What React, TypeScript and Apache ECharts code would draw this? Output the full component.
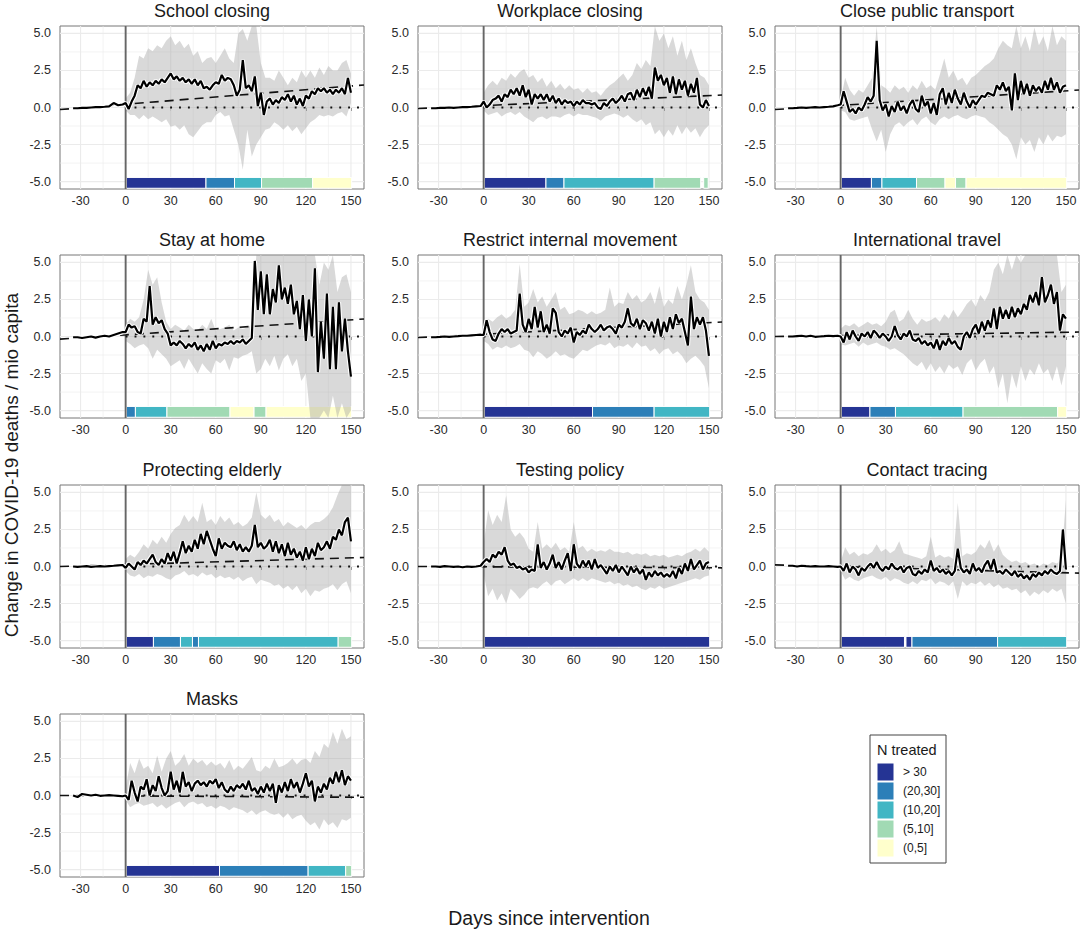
import React, { useEffect, useRef } from 'react';
import * as echarts from 'echarts';

const FONT = '"Liberation Sans", Arial, Helvetica, sans-serif';

const X_MIN = -43.7;
const X_MAX = 158.7;
const Y_MIN = -5.5;
const Y_MAX = 5.5;
const X_TICKS = [-30, 0, 30, 60, 90, 120, 150];
const X_MINOR = [-15, 15, 45, 75, 105, 135];
const Y_TICKS = [-5, -2.5, 0, 2.5, 5];
const Y_MINOR = [-3.75, -1.25, 1.25, 3.75];
const TILE_TOP = -4.72;
const TILE_BOTTOM = -5.45;

const PANEL_TITLES = [
  'School closing', 'Workplace closing', 'Close public transport',
  'Stay at home', 'Restrict internal movement', 'International travel',
  'Protecting elderly', 'Testing policy', 'Contact tracing', 'Masks',
];

const N_LABELS = ['> 30', '(20,30]', '(10,20]', '(5,10]', '(0,5]'];
const N_COLORS = ['#253494', '#2c7fb8', '#41b6c4', '#a1dab4', '#ffffcc'];

const PRE_DAYS = [-35, -32, -29, -26, -23, -20, -17, -14, -11, -8, -5, -2];
const POST_DAYS = [0, 2, 4, 6, 8, 10, 12, 14, 16, 18, 20, 22, 24, 26, 28, 30, 32, 34, 36, 38, 40, 42, 44, 46, 48, 50, 52, 54, 56, 58, 60, 62, 64, 66, 68, 70, 72, 74, 76, 78, 80, 82, 84, 86, 88, 90, 92, 94, 96, 98, 100, 102, 104, 106, 108, 110, 112, 114, 116, 118, 120, 122, 124, 126, 128, 130, 132, 134, 136, 138, 140, 142, 144, 146, 148, 150];
const LINE_DAYS = [...PRE_DAYS, ...POST_DAYS];
const BAND_DAYS = [0, 3, 6, 9, 12, 15, 18, 21, 24, 27, 30, 33, 36, 39, 42, 45, 48, 51, 54, 57, 60, 63, 66, 69, 72, 75, 78, 81, 84, 87, 90, 93, 96, 99, 102, 105, 108, 111, 114, 117, 120, 123, 126, 129, 132, 135, 138, 141, 144, 147, 150];

// ---- estimated effect lines (pre days, then post days) ----
const LINE_SCHOOL = [
  -0.05, -0.05, -0.03, -0.02, 0.0, 0.02, 0.03, 0.05, 0.08, 0.3, 0.15, 0.2,
  0.3, -0.1, 0.4, 0.8, 1.5, 1.3, 1.8, 1.4, 1.7, 1.5,
  1.8, 1.6, 1.9, 1.7, 2.0, 2.3, 1.9, 2.1, 1.8, 2.0,
  1.7, 1.9, 1.6, 1.9, 1.5, 1.8, 1.3, 1.4, 1.2, 1.5,
  1.7, 1.6, 2.2, 1.8, 2.0, 1.9, 1.5, 0.8, 1.2, 3.2,
  1.3, 1.5, 1.1, 2.1, 0.1, 1.0, -0.5, 0.4, 0.6, 0.2,
  0.5, 0.3, 0.7, 0.5, 0.9, 0.4, 0.8, 0.2, 0.6, 0.1,
  0.8, 0.6, 1.1, 0.9, 1.3, 1.1, 1.3, 1.0, 1.2, 0.9,
  1.2, 1.0, 1.3, 0.9, 2.0, 1.0,
];
const LINE_WORK = [
  -0.05, -0.05, -0.03, -0.02, 0.0, -0.02, 0.0, 0.02, 0.03, 0.05, 0.08, 0.1,
  0.4, 0.0, 0.2, 0.5, 0.6, 0.8, 0.4, 0.9, 0.7, 1.2,
  0.9, 1.3, 0.8, 1.5, 0.7, 1.2, 0.2, 0.9, 0.6, 0.9,
  0.5, 0.9, 0.4, 0.8, 0.3, 0.6, 0.2, 0.5, 0.3, 0.4,
  0.1, 0.4, 0.2, 0.5, 0.3, 0.3, 0.2, 0.3, 0.0, -0.1,
  0.3, 0.1, 0.4, 0.6, 0.3, 0.5, 0.8, 0.4, 0.9, 1.0,
  0.5, 1.2, 0.7, 1.3, 0.8, 1.4, 0.6, 2.7, 1.8, 2.2,
  1.5, 2.0, 1.0, 2.1, 0.9, 1.9, 1.2, 1.8, 0.8, 1.6,
  1.0, 2.0, 0.2, 0.0, 0.5, 0.1,
];
const LINE_TRANSPORT = [
  -0.05, -0.05, -0.03, 0.0, -0.02, 0.0, 0.02, 0.0, 0.03, 0.05, 0.08, 0.15,
  0.2, 1.1, 0.4, -0.3, -0.1, -0.4, 0.0, -0.2, 0.2, 0.7,
  0.4, 0.8, 4.5, 0.5, -0.2, 0.2, -0.6, 0.1, -0.3, 0.4,
  -0.2, 0.1, -0.4, 0.2, 0.5, -0.1, -0.3, 0.8, 0.1, 0.4,
  -0.4, 0.3, -0.5, 0.9, 1.3, 0.2, 1.0, 0.3, 1.2, 0.6,
  0.2, 1.0, 0.4, 0.0, 0.5, 0.2, 0.5, 0.8, 0.7, 1.0,
  0.9, 0.8, 1.5, 1.2, 1.7, 1.1, 1.4, -0.2, 2.3, 0.5,
  1.8, 0.9, 1.6, 0.8, 1.5, 1.1, 1.4, 1.0, 1.8, 1.2,
  2.0, 1.2, 1.7, 1.0, 1.4, 1.5,
];
const LINE_HOME = [
  -0.05, -0.05, -0.1, -0.05, 0.0, -0.08, 0.0, 0.05, 0.0, 0.1, 0.2, 0.3,
  0.3, 0.8, 0.6, 0.7, 0.3, 0.2, 1.2, 1.0, 3.4, 0.8,
  1.3, 0.9, 1.1, 0.5, 0.2, -0.6, -0.4, -0.6, -0.3, -0.5,
  -0.8, -0.5, -0.7, -0.4, -0.9, -0.6, -1.0, -0.5, -0.9, -0.3,
  -0.8, -0.5, -0.6, -0.4, -0.5, -0.3, -0.5, -0.3, -0.4, -0.2,
  -0.5, -0.3, -0.1, 5.1, 1.8, 4.4, 1.5, 4.2, 1.5, 3.2,
  2.3, 4.8, 2.5, 3.3, 2.2, 3.5, 1.5, 2.4, 0.5, 2.8,
  -0.3, 2.5, 0.0, 4.6, -2.4, 1.0, -1.5, 2.9, -2.2, 2.0,
  -2.2, 2.3, -1.0, 1.2, -1.0, -2.7,
];
const LINE_INTERNAL = [
  -0.05, -0.05, -0.03, 0.0, -0.02, 0.0, 0.02, 0.05, 0.05, 0.08, 0.1, 0.12,
  0.1, 1.1, 0.3, -0.2, -0.3, 0.2, 0.5, 0.3, 0.5, 0.2,
  0.3, 0.4, 2.9, 0.8, 0.3, 1.2, 0.5, 2.0, 0.6, 1.7,
  0.3, 0.8, 0.2, 1.9, 1.6, 0.3, 0.0, 0.4, 0.2, 0.6,
  -0.4, 0.3, 0.1, 0.4, 0.2, 0.8, 0.5, 0.3, 0.5, 0.8,
  0.4, 0.6, 0.7, 0.5, 0.2, 0.8, 0.6, 1.0, 1.9, 0.9,
  0.7, 1.2, 0.5, 1.1, 0.9, 0.4, 1.0, 0.2, 1.2, 0.0,
  1.0, 0.3, 1.3, 0.5, 1.5, 0.9, 1.2, 0.3, -0.6, 2.7,
  0.5, 1.3, 0.8, 1.3, 0.4, -1.3,
];
const LINE_TRAVEL = [
  0.0, 0.0, 0.03, 0.05, 0.0, 0.05, -0.02, 0.0, 0.02, 0.05, 0.03, 0.05,
  0.0, -0.4, 0.3, -0.2, 0.4, 0.0, -0.3, 0.2, 0.0, 0.3,
  -0.1, 0.4, 0.2, -0.1, 0.2, 0.0, -0.3, 0.0, 0.7, 0.1,
  -0.2, 0.2, 0.0, 0.4, -0.2, -0.3, -0.1, -0.5, -0.3, -0.6,
  -0.4, -0.8, -0.2, -0.9, -0.3, -0.6, -0.1, -0.5, -0.3, -0.7,
  -0.9, 0.0, 0.3, -0.1, 0.5, 0.8, 0.2, 1.0, 0.4, 1.1,
  0.6, 1.9, 0.5, 2.0, 1.2, 1.8, 1.2, 2.0, 1.3, 1.9,
  1.5, 2.2, 1.8, 2.8, 2.3, 3.0, 2.1, 4.0, 2.3, 2.8,
  3.5, 2.2, 3.0, 0.4, 1.5, 1.2,
];
const LINE_ELDERLY = [
  0.0, -0.02, 0.0, 0.02, -0.03, 0.0, 0.03, 0.0, 0.03, 0.05, 0.08, 0.1,
  -0.1, 0.2, 0.0, -0.2, 0.3, 0.1, 0.4, 0.2, 0.5, 0.8,
  0.3, 0.1, 0.5, 0.2, 0.9, 0.4, 1.0, 0.2, 0.9, 1.7,
  0.9, 1.4, 1.0, 1.8, 1.2, 2.2, 1.5, 2.4, 1.8, 1.2,
  0.7, 1.9, 1.2, 1.6, 1.4, 1.3, 1.7, 1.1, 1.5, 1.0,
  1.3, 1.0, 1.4, 2.8, 1.3, 1.6, 1.2, 1.4, 1.8, 1.0,
  1.7, 0.9, 1.5, 0.7, 1.6, 0.8, 1.2, 0.6, 1.0, 0.4,
  1.3, 0.5, 1.2, 0.7, 1.6, 1.1, 1.3, 1.7, 1.2, 2.0,
  1.8, 2.5, 2.1, 3.0, 3.3, 1.7,
];
const LINE_TESTING = [
  0.0, 0.0, -0.02, 0.02, 0.0, -0.02, 0.0, -0.05, 0.0, -0.03, 0.0, 0.05,
  0.3, 0.5, 0.3, 0.8, 0.6, 1.0, 0.8, 1.3, 0.4, 0.1,
  0.2, -0.1, 0.0, -0.2, -0.1, -0.4, -0.2, -0.3, 1.5, -0.1,
  0.3, -0.2, 0.2, 0.8, -0.1, 0.3, -0.2, 0.4, 0.9, -0.3,
  1.5, 0.2, -0.1, 0.4, 0.0, 0.4, -0.2, 0.5, -0.1, 0.1,
  -0.2, -0.5, 0.0, -0.3, 0.1, -0.4, 0.0, -0.3, -0.6, 0.0,
  -0.4, -0.1, -0.5, -0.2, -0.9, -0.4, -0.7, -0.3, -0.6, -0.4,
  -0.7, -0.5, -0.7, -0.3, -0.8, -0.1, -0.5, 0.2, -0.3, 0.5,
  -0.2, 0.1, 0.4, -0.2, 0.2, 0.3,
];
const LINE_TRACING = [
  0.05, 0.05, 0.0, 0.05, 0.02, 0.0, 0.03, 0.0, 0.0, 0.02, 0.0, -0.02,
  0.0, -0.3, 0.2, -0.4, 0.0, -0.2, -0.6, -0.1, -0.3, 0.0,
  0.2, -0.1, 0.3, -0.1, -0.3, 0.0, -0.2, 0.2, -0.1, -0.2,
  0.0, -0.4, -0.1, 0.0, -0.5, -0.6, -0.3, -0.5, -0.2, -0.4,
  0.4, -0.3, -0.1, -0.4, -0.2, -0.5, -0.3, -0.6, -0.3, 1.2,
  -0.1, -0.4, -0.2, -0.5, 0.2, -0.3, -0.1, -0.4, 0.1, 0.4,
  -0.2, 0.5, -0.4, -0.3, -0.5, -0.2, -0.4, -0.6, -0.3, -0.7,
  -0.5, -0.8, -0.6, -0.9, -0.5, -0.7, -0.4, -0.6, -0.3, -0.5,
  -0.2, -0.4, -0.5, -0.3, 2.5, -0.2,
];
const LINE_MASKS = [
  0.0, -0.1, 0.1, 0.05, 0.0, 0.05, -0.02, 0.0, 0.02, 0.0, -0.02, -0.05,
  0.0, -0.3, 1.0, 0.2, -0.4, 0.6, 0.4, 1.1, 0.0, 0.7,
  0.3, 1.3, 0.5, 0.0, 0.3, 1.6, 0.4, 1.0, 0.2, 1.6,
  0.6, 0.9, 0.3, 0.8, 1.0, 0.7, 0.9, 0.6, 1.0, 0.8,
  1.1, 0.5, 0.9, 0.4, 0.2, 0.6, 0.3, 0.7, 0.5, 0.8,
  0.4, 1.0, 0.3, 0.5, 0.1, 0.6, 0.2, 0.8, 0.3, 0.8,
  -0.5, 0.7, 0.2, 0.9, 0.3, 1.1, 0.5, 0.9, 0.2, 0.8,
  1.5, 0.6, 1.0, -0.4, 0.6, 0.2, 0.8, 0.4, 1.2, 0.8,
  1.6, 0.9, 1.7, 0.7, 1.3, 1.0,
];

// ---- confidence bands (BAND_DAYS) ----
const UPPER_SCHOOL = [0.6, 1.0, 2.0, 3.5, 3.3, 4.0, 3.8, 4.2, 4.0, 4.5, 4.8, 4.2, 4.5, 4.0, 4.3, 3.5, 3.8, 3.0, 3.3, 3.4, 3.0, 3.5, 4.0, 3.3, 3.0, 5.0, 5.3, 4.5, 5.5, 5.5, 3.0, 2.0, 2.0, 1.8, 2.5, 2.0, 1.5, 2.0, 1.7, 2.5, 2.0, 2.5, 2.0, 2.7, 2.2, 2.8, 2.5, 2.5, 3.0, 3.2, 2.3];
const LOWER_SCHOOL = [-0.2, -0.5, -0.5, -0.8, -0.5, -0.8, -0.6, -0.8, -1.0, -0.8, -1.3, -1.2, -1.5, -1.2, -1.8, -2.0, -1.6, -1.2, -1.0, -1.0, -0.5, -0.3, -0.6, -0.5, -1.5, -2.5, -4.2, -1.5, -3.3, -2.5, -2.0, -1.5, -1.4, -1.0, -1.2, -1.5, -1.2, -1.6, -1.3, -1.8, -1.4, -1.0, -0.8, -0.5, -0.6, -0.5, -0.6, -0.4, -0.3, -0.6, 0.3];
const UPPER_WORK = [1.0, 1.5, 1.8, 1.5, 2.0, 1.8, 2.3, 2.0, 2.4, 2.6, 2.0, 2.2, 1.7, 2.0, 1.4, 1.8, 1.3, 1.6, 1.2, 1.5, 1.2, 1.3, 1.0, 1.3, 1.0, 1.1, 0.8, 1.2, 1.5, 1.7, 2.0, 2.3, 1.8, 2.2, 3.0, 2.6, 3.2, 2.8, 5.5, 4.5, 5.0, 4.0, 4.8, 3.5, 4.5, 3.2, 4.0, 3.0, 2.2, 2.0, 1.5];
const LOWER_WORK = [-0.2, -0.5, -0.4, -0.3, -0.6, -0.4, -0.3, -0.5, -0.3, -0.6, -0.8, -1.0, -0.7, -0.6, -0.8, -0.6, -0.6, -0.7, -0.5, -0.4, -0.6, -0.4, -0.5, -0.5, -0.6, -0.7, -0.9, -0.6, -0.5, -0.4, -0.5, -0.7, -0.5, -0.8, -1.0, -0.8, -1.2, -1.0, -1.8, -1.5, -2.0, -1.5, -1.9, -1.2, -1.8, -1.3, -1.7, -1.4, -2.0, -1.5, -1.2];
const UPPER_TRANSPORT = [0.5, 2.0, 1.2, 0.8, 1.2, 1.0, 1.5, 2.0, 5.5, 1.5, 1.3, 1.0, 1.5, 1.2, 1.4, 1.0, 1.5, 1.2, 1.8, 1.3, 1.5, 1.2, 2.2, 3.3, 2.0, 2.5, 1.8, 2.0, 1.5, 2.0, 2.2, 2.5, 2.8, 3.0, 3.3, 4.0, 4.5, 4.2, 4.0, 5.5, 4.0, 4.8, 3.8, 5.4, 4.2, 4.8, 3.8, 5.5, 4.2, 4.8, 4.5];
const LOWER_TRANSPORT = [-0.2, -0.3, -0.8, -0.9, -0.8, -0.7, -0.6, -1.5, -2.3, -1.5, -3.0, -1.8, -1.2, -1.0, -1.3, -1.0, -0.8, -1.2, -0.8, -0.6, -1.0, -1.2, -0.8, -0.6, -0.8, -0.6, -0.5, -0.7, -0.8, -0.6, -0.5, -0.6, -0.7, -1.0, -1.2, -1.5, -1.8, -2.0, -2.5, -3.5, -2.0, -2.5, -2.2, -3.0, -2.0, -2.5, -1.8, -2.3, -1.9, -2.0, -1.8];
const UPPER_HOME = [0.8, 1.2, 1.0, 1.3, 2.5, 4.5, 3.5, 4.0, 2.3, 1.0, 0.5, 0.8, 0.6, 0.4, 0.8, 0.5, 0.4, 0.8, 0.5, 1.2, 0.4, 0.5, 0.6, 0.8, 0.4, 0.6, 0.5, 0.6, 0.8, 5.5, 5.5, 5.5, 5.5, 5.5, 5.5, 5.5, 5.5, 5.5, 5.5, 5.5, 5.5, 5.5, 5.5, 3.5, 5.0, 4.5, 5.5, 3.0, 4.0, 4.2, 3.0];
const LOWER_HOME = [-0.3, -0.5, -0.8, -0.6, -0.5, -0.8, -1.5, -0.9, -1.2, -1.5, -2.0, -1.8, -1.6, -2.2, -1.5, -2.0, -2.5, -1.8, -2.2, -2.5, -1.6, -1.8, -1.5, -2.3, -1.4, -1.5, -1.3, -1.2, -1.0, -2.5, -2.2, -1.5, -2.0, -1.3, -2.3, -1.5, -1.2, -2.0, -1.5, -3.0, -2.5, -5.5, -5.5, -5.5, -5.0, -5.5, -4.0, -5.5, -4.5, -5.5, -5.0];
const UPPER_INTERNAL = [0.8, 1.2, 1.0, 1.3, 1.5, 1.2, 1.4, 1.8, 4.9, 2.0, 2.3, 3.2, 2.3, 2.7, 2.0, 2.5, 3.0, 1.8, 2.0, 1.5, 1.6, 1.8, 1.7, 1.5, 1.7, 1.5, 1.6, 1.8, 3.3, 2.0, 2.3, 2.2, 3.0, 2.5, 2.8, 2.3, 2.5, 3.0, 2.2, 3.4, 2.0, 2.5, 2.2, 3.4, 2.5, 3.5, 4.8, 3.0, 2.5, 2.3, 1.8];
const LOWER_INTERNAL = [-0.3, -0.5, -0.9, -0.7, -0.8, -0.6, -0.8, -0.7, -0.5, -0.9, -1.0, -1.4, -1.0, -1.2, -1.5, -1.3, -1.0, -1.3, -1.2, -1.4, -1.5, -1.2, -0.9, -1.0, -0.8, -0.6, -0.5, -0.6, -0.4, -0.8, -0.6, -0.7, -0.5, -0.8, -0.4, -0.7, -0.6, -1.0, -0.8, -1.2, -0.9, -0.8, -1.2, -1.0, -1.3, -1.8, -1.5, -1.3, -1.6, -2.0, -3.5];
const UPPER_TRAVEL = [0.5, 0.8, 0.7, 0.9, 0.6, 0.8, 1.0, 0.8, 0.9, 0.7, 1.0, 1.6, 1.8, 1.0, 1.2, 1.8, 1.2, 0.8, 1.2, 1.0, 1.1, 1.3, 1.0, 1.5, 1.2, 1.8, 1.3, 1.7, 2.2, 2.5, 2.0, 2.8, 2.4, 3.0, 4.5, 5.0, 4.2, 5.5, 4.5, 5.5, 5.0, 5.5, 5.5, 5.5, 5.5, 5.5, 5.5, 5.5, 5.5, 3.0, 3.5];
const LOWER_TRAVEL = [-0.5, -0.6, -0.5, -0.4, -0.7, -0.4, -0.6, -0.5, -0.4, -0.6, -0.7, -0.9, -0.8, -1.0, -1.2, -1.5, -1.8, -2.0, -1.7, -2.3, -1.8, -2.4, -2.0, -2.5, -1.9, -2.2, -2.0, -2.6, -1.8, -1.5, -2.3, -1.8, -1.5, -2.5, -2.0, -3.5, -2.5, -4.5, -2.5, -3.5, -2.0, -3.0, -2.2, -2.6, -1.8, -2.5, -2.2, -3.0, -2.0, -3.3, -2.0];
const UPPER_ELDERLY = [0.5, 0.8, 0.6, 1.0, 1.5, 1.2, 1.8, 1.5, 2.0, 1.6, 2.2, 2.6, 2.8, 3.5, 3.0, 3.4, 3.0, 4.3, 3.0, 3.2, 2.8, 3.4, 3.0, 3.3, 2.8, 3.0, 2.7, 2.9, 3.3, 5.0, 3.5, 3.2, 3.5, 3.0, 3.2, 2.7, 3.0, 2.8, 2.6, 2.8, 2.5, 2.8, 3.0, 3.0, 3.2, 3.5, 4.0, 4.8, 5.5, 5.5, 5.5];
const LOWER_ELDERLY = [-0.3, -0.6, -0.7, -0.5, -0.8, -0.6, -0.7, -0.5, -0.6, -0.8, -0.9, -0.6, -0.5, -0.3, -0.6, -0.5, -0.7, -0.4, -0.6, -0.5, -0.8, -0.6, -0.8, -0.7, -0.9, -0.7, -1.0, -0.8, -0.7, -1.2, -0.9, -1.0, -1.1, -1.3, -1.2, -1.5, -1.3, -1.6, -1.3, -1.8, -1.5, -2.0, -1.6, -1.7, -1.5, -1.4, -1.2, -1.6, -1.2, -1.0, -1.8];
const UPPER_TESTING = [1.5, 3.8, 2.8, 3.5, 3.0, 4.8, 2.5, 2.0, 2.3, 1.9, 1.2, 1.0, 3.0, 1.2, 1.5, 1.2, 1.6, 1.1, 1.3, 1.0, 3.0, 1.2, 1.4, 1.0, 1.2, 1.0, 1.1, 1.0, 1.2, 1.0, 1.0, 0.9, 1.0, 0.8, 0.9, 0.8, 0.9, 0.7, 0.8, 0.7, 0.8, 0.6, 0.7, 0.8, 0.7, 0.9, 1.0, 1.2, 1.0, 1.3, 1.0];
const LOWER_TESTING = [-0.5, -2.0, -1.5, -2.3, -1.8, -2.5, -1.5, -1.8, -2.2, -1.9, -1.5, -1.4, -1.5, -1.2, -1.0, -1.3, -1.0, -0.9, -1.2, -1.0, -0.8, -1.0, -0.8, -1.0, -0.8, -0.9, -1.0, -1.1, -1.0, -1.2, -1.1, -1.3, -1.2, -1.4, -1.3, -1.5, -1.6, -1.4, -1.5, -1.3, -1.5, -1.4, -1.3, -1.2, -1.1, -1.0, -0.9, -0.8, -0.9, -0.7, -0.6];
const UPPER_TRACING = [0.3, 1.3, 0.8, 1.0, 0.7, 0.9, 0.8, 1.0, 1.5, 1.0, 1.2, 0.9, 1.1, 1.7, 0.9, 0.8, 0.7, 0.6, 0.5, 0.7, 2.0, 0.6, 0.8, 0.6, 0.7, 0.5, 4.3, 0.7, 0.9, 0.8, 1.0, 1.5, 1.2, 1.8, 1.0, 1.5, 0.8, 0.5, 0.3, 0.4, 0.2, 0.3, 0.1, 0.2, 0.0, 0.2, 0.1, 0.3, 0.2, 0.5, 4.5];
const LOWER_TRACING = [-0.3, -0.9, -0.7, -0.9, -1.0, -0.8, -0.7, -0.6, -0.8, -0.9, -0.7, -1.0, -0.8, -0.9, -1.1, -1.2, -1.0, -1.2, -0.9, -1.0, -0.8, -1.2, -1.0, -1.1, -1.3, -1.0, -2.2, -1.0, -1.3, -1.1, -1.2, -1.0, -1.3, -1.1, -1.4, -1.2, -1.5, -1.4, -1.6, -1.5, -1.8, -1.6, -2.0, -1.7, -1.9, -1.6, -1.8, -1.5, -1.7, -1.5, -2.5];
const UPPER_MASKS = [0.5, 2.2, 1.5, 2.5, 1.8, 2.0, 1.5, 2.7, 1.6, 2.5, 3.0, 2.0, 2.3, 2.8, 2.0, 2.5, 2.2, 2.4, 2.0, 2.3, 2.0, 2.2, 1.8, 2.4, 1.7, 2.0, 1.8, 2.2, 2.6, 1.7, 1.6, 2.0, 1.8, 2.5, 1.9, 2.0, 2.2, 2.5, 2.1, 2.4, 2.5, 2.2, 3.0, 2.6, 3.5, 3.2, 4.3, 3.5, 4.5, 3.8, 4.0];
const LOWER_MASKS = [-0.3, -0.8, -0.6, -0.5, -0.7, -0.6, -0.5, -0.8, -0.6, -0.9, -0.7, -0.5, -0.4, -0.8, -0.5, -0.4, -0.6, -0.5, -0.8, -0.7, -0.9, -0.7, -0.8, -1.0, -0.8, -0.9, -1.0, -1.2, -1.0, -1.3, -1.1, -1.0, -1.2, -1.3, -1.2, -1.5, -1.2, -1.6, -1.4, -1.3, -1.7, -2.0, -1.8, -2.3, -1.6, -2.0, -1.8, -2.2, -1.6, -1.7, -1.5];

// ---- dashed linear trend: value at left edge, value at right edge ----
const TREND_LEFT = [-0.14, -0.07, -0.14, -0.18, -0.07, 0.0, 0.0, 0.0, 0.11, 0.0];
const TREND_RIGHT = [1.52, 0.84, 1.18, 1.18, 0.98, 0.3, 0.61, -0.09, -0.45, -0.12];

// ---- N treated runs: [from day, to day, class index] ----
const TREATED_SCHOOL = [[0.5, 53.5, 0], [53.5, 72.5, 1], [72.5, 90.5, 2], [90.5, 124.5, 3], [124.5, 150.5, 4]];
const TREATED_WORK = [[0.5, 41.5, 0], [41.5, 53.5, 1], [53.5, 113.5, 2], [113.5, 144.5, 3], [146.5, 149.5, 3]];
const TREATED_TRANSPORT = [[0.5, 20.5, 0], [20.5, 27.5, 1], [27.5, 50.5, 2], [50.5, 69.5, 3], [69.5, 76.5, 4], [76.5, 83.5, 3], [83.5, 150.5, 4]];
const TREATED_HOME = [[0.5, 6.5, 1], [6.5, 27.5, 2], [27.5, 69.5, 3], [69.5, 85.5, 4], [85.5, 93.5, 3], [93.5, 150.5, 4]];
const TREATED_INTERNAL = [[0.5, 72.5, 0], [72.5, 113.5, 1], [113.5, 150.5, 2]];
const TREATED_TRAVEL = [[0.5, 19.5, 0], [19.5, 36.5, 1], [36.5, 81.5, 2], [81.5, 144.5, 3], [144.5, 150.5, 4]];
const TREATED_ELDERLY = [[0.5, 18.5, 0], [18.5, 36.5, 1], [36.5, 44.5, 2], [44.5, 48.5, 1], [48.5, 141.5, 2], [141.5, 150.5, 3]];
const TREATED_TESTING = [[0.5, 150.5, 0]];
const TREATED_TRACING = [[0.5, 42.5, 0], [43.5, 47.5, 0], [47.5, 104.5, 1], [104.5, 150.5, 2]];
const TREATED_MASKS = [[0.5, 62.5, 0], [62.5, 121.5, 1], [121.5, 146.5, 2], [146.5, 150.5, 3]];

const LINES = [LINE_SCHOOL, LINE_WORK, LINE_TRANSPORT, LINE_HOME, LINE_INTERNAL, LINE_TRAVEL, LINE_ELDERLY, LINE_TESTING, LINE_TRACING, LINE_MASKS];
const UPPERS = [UPPER_SCHOOL, UPPER_WORK, UPPER_TRANSPORT, UPPER_HOME, UPPER_INTERNAL, UPPER_TRAVEL, UPPER_ELDERLY, UPPER_TESTING, UPPER_TRACING, UPPER_MASKS];
const LOWERS = [LOWER_SCHOOL, LOWER_WORK, LOWER_TRANSPORT, LOWER_HOME, LOWER_INTERNAL, LOWER_TRAVEL, LOWER_ELDERLY, LOWER_TESTING, LOWER_TRACING, LOWER_MASKS];
const TREATED = [TREATED_SCHOOL, TREATED_WORK, TREATED_TRANSPORT, TREATED_HOME, TREATED_INTERNAL, TREATED_TRAVEL, TREATED_ELDERLY, TREATED_TESTING, TREATED_TRACING, TREATED_MASKS];

// ---- layout ----
const COL_LEFT = [60, 418, 775];
const ROW_TOP = [26, 255, 485, 714];
const PANEL_W = 304;
const PANEL_H = 163;

function textEl(text: string, x: number, y: number, size: number, align: string, extra: any = {}) {
  return {
    type: 'text',
    x,
    y,
    silent: true,
    ...extra,
    style: {
      text,
      fontSize: size,
      fontFamily: FONT,
      fill: '#1a1a1a',
      align,
      verticalAlign: 'middle',
      textAlign: align,
      textVerticalAlign: 'middle',
    },
  };
}

function buildOption() {
  const grids: any[] = [];
  const xAxes: any[] = [];
  const yAxes: any[] = [];
  const series: any[] = [];
  const graphics: any[] = [];

  PANEL_TITLES.forEach((title, i) => {
    const col = i % 3;
    const row = Math.floor(i / 3);
    const left = COL_LEFT[col];
    const top = ROW_TOP[row];
    grids.push({
      left, top, width: PANEL_W, height: PANEL_H,
      show: true, borderColor: '#777777', borderWidth: 1, backgroundColor: '#ffffff',
    });
    xAxes.push({
      type: 'value', gridIndex: i, min: X_MIN, max: X_MAX,
      splitLine: { show: false }, axisLine: { show: false },
      axisTick: { show: true, customValues: X_TICKS, length: 3.5, lineStyle: { color: '#555', width: 1 } },
      axisLabel: { customValues: X_TICKS, color: '#2a2a2a', fontSize: 12.5, margin: 5, fontFamily: FONT },
    });
    yAxes.push({
      type: 'value', gridIndex: i, min: Y_MIN, max: Y_MAX,
      splitLine: { show: false }, axisLine: { show: false },
      axisTick: { show: true, customValues: Y_TICKS, length: 3.5, lineStyle: { color: '#555', width: 1 } },
      axisLabel: {
        customValues: Y_TICKS, color: '#2a2a2a', fontSize: 12.5, margin: 9, fontFamily: FONT,
        formatter: (v: number) => Number(v).toFixed(1),
      },
    });

    const upper = UPPERS[i];
    const lower = LOWERS[i];
    const line = LINES[i];

    // grid lines
    series.push({
      type: 'custom', xAxisIndex: i, yAxisIndex: i, z: 1, silent: true,
      data: [[0, 0]],
      renderItem: (params: any, api: any) => {
        const children: any[] = [];
        const add = (a: number[], b: number[], w: number) => children.push({
          type: 'line', shape: { x1: a[0], y1: a[1], x2: b[0], y2: b[1] },
          style: { stroke: '#ebebeb', lineWidth: w },
        });
        X_MINOR.forEach((v) => add(api.coord([v, Y_MIN]), api.coord([v, Y_MAX]), 0.6));
        Y_MINOR.forEach((v) => add(api.coord([X_MIN, v]), api.coord([X_MAX, v]), 0.6));
        X_TICKS.forEach((v) => add(api.coord([v, Y_MIN]), api.coord([v, Y_MAX]), 1.1));
        Y_TICKS.forEach((v) => add(api.coord([X_MIN, v]), api.coord([X_MAX, v]), 1.1));
        return { type: 'group', children };
      },
    });

    // N treated tiles
    series.push({
      type: 'custom', xAxisIndex: i, yAxisIndex: i, z: 2, silent: true,
      data: TREATED[i],
      encode: { x: [0, 1] },
      renderItem: (params: any, api: any) => {
        const s = api.value(0);
        const e = api.value(1);
        const c = api.value(2);
        const p1 = api.coord([s, TILE_TOP]);
        const p2 = api.coord([e, TILE_BOTTOM]);
        return {
          type: 'rect',
          shape: { x: p1[0], y: p1[1], width: p2[0] - p1[0], height: p2[1] - p1[1] },
          style: { fill: N_COLORS[c], stroke: '#ffffff', lineWidth: 1 },
        };
      },
    });

    // confidence band
    series.push({
      type: 'custom', xAxisIndex: i, yAxisIndex: i, z: 3, silent: true,
      data: [[0, 0]],
      renderItem: (params: any, api: any) => {
        const cs = params.coordSys;
        const clampY = (y: number) => Math.max(cs.y, Math.min(cs.y + cs.height, y));
        const pts: number[][] = [];
        BAND_DAYS.forEach((d, k) => {
          const p = api.coord([d, upper[k]]);
          pts.push([p[0], clampY(p[1])]);
        });
        for (let k = BAND_DAYS.length - 1; k >= 0; k--) {
          const p = api.coord([BAND_DAYS[k], lower[k]]);
          pts.push([p[0], clampY(p[1])]);
        }
        return { type: 'polygon', shape: { points: pts }, style: { fill: 'rgba(160,160,160,0.4)' } };
      },
    });

    // vertical line at intervention
    series.push({
      type: 'line', xAxisIndex: i, yAxisIndex: i, z: 4, silent: true, symbol: 'none',
      data: [[0, Y_MIN], [0, Y_MAX]],
      lineStyle: { color: '#666666', width: 1.9 },
    });
    // zero reference (dotted)
    series.push({
      type: 'line', xAxisIndex: i, yAxisIndex: i, z: 4, silent: true, symbol: 'none',
      data: [[0, 0], [X_MAX, 0]],
      lineStyle: { color: '#111', width: 1.9, type: [1.9, 7] },
    });
    // trend (dashed)
    series.push({
      type: 'line', xAxisIndex: i, yAxisIndex: i, z: 4, silent: true, symbol: 'none',
      data: [[X_MIN, TREND_LEFT[i]], [X_MAX, TREND_RIGHT[i]]],
      lineStyle: { color: '#111', width: 1.6, type: [9, 6] },
    });

    const lineData = LINE_DAYS.map((d, k) => [d, line[k]]);
    series.push({
      type: 'line', xAxisIndex: i, yAxisIndex: i, z: 5, silent: true, symbol: 'none',
      data: lineData, lineStyle: { color: '#ffffff', width: 4.4 },
    });
    series.push({
      type: 'line', xAxisIndex: i, yAxisIndex: i, z: 6, silent: true, symbol: 'none',
      data: lineData, lineStyle: { color: '#000000', width: 2.2 },
    });

    graphics.push(textEl(title, left + PANEL_W / 2, top - 15, 18, 'center'));
  });

  // axis titles
  graphics.push(textEl('Days since intervention', 549, 918, 19.5, 'center'));
  graphics.push(textEl('Change in COVID-19 deaths / mio capita', 11, 465, 19, 'center', { rotation: Math.PI / 2 }));

  // legend
  graphics.push({
    type: 'rect', silent: true,
    shape: { x: 870, y: 735, width: 76, height: 128 },
    style: { fill: '#ffffff', stroke: '#444', lineWidth: 1 },
  });
  graphics.push(textEl('N treated', 877, 750, 14.5, 'left'));
  N_LABELS.forEach((lab, k) => {
    graphics.push({
      type: 'rect', silent: true,
      shape: { x: 877, y: 763 + 19 * k, width: 17, height: 18 },
      style: { fill: N_COLORS[k], stroke: '#ffffff', lineWidth: 1 },
    });
    graphics.push(textEl(lab, 903, 772 + 19 * k, 12, 'left'));
  });

  return {
    animation: false,
    backgroundColor: '#ffffff',
    textStyle: { fontFamily: FONT },
    grid: grids,
    xAxis: xAxes,
    yAxis: yAxes,
    series,
    graphic: { elements: graphics },
  };
}

export default function App() {
  const ref = useRef<HTMLDivElement>(null);
  useEffect(() => {
    if (!ref.current) return;
    const chart = echarts.init(ref.current, undefined, { renderer: 'svg' });
    chart.setOption(buildOption() as any);
    return () => {
      chart.dispose();
    };
  }, []);
  return (
    <div
      ref={ref}
      style={{ position: 'absolute', left: 0, top: 0, width: 1084, height: 931, background: '#ffffff' }}
    />
  );
}
